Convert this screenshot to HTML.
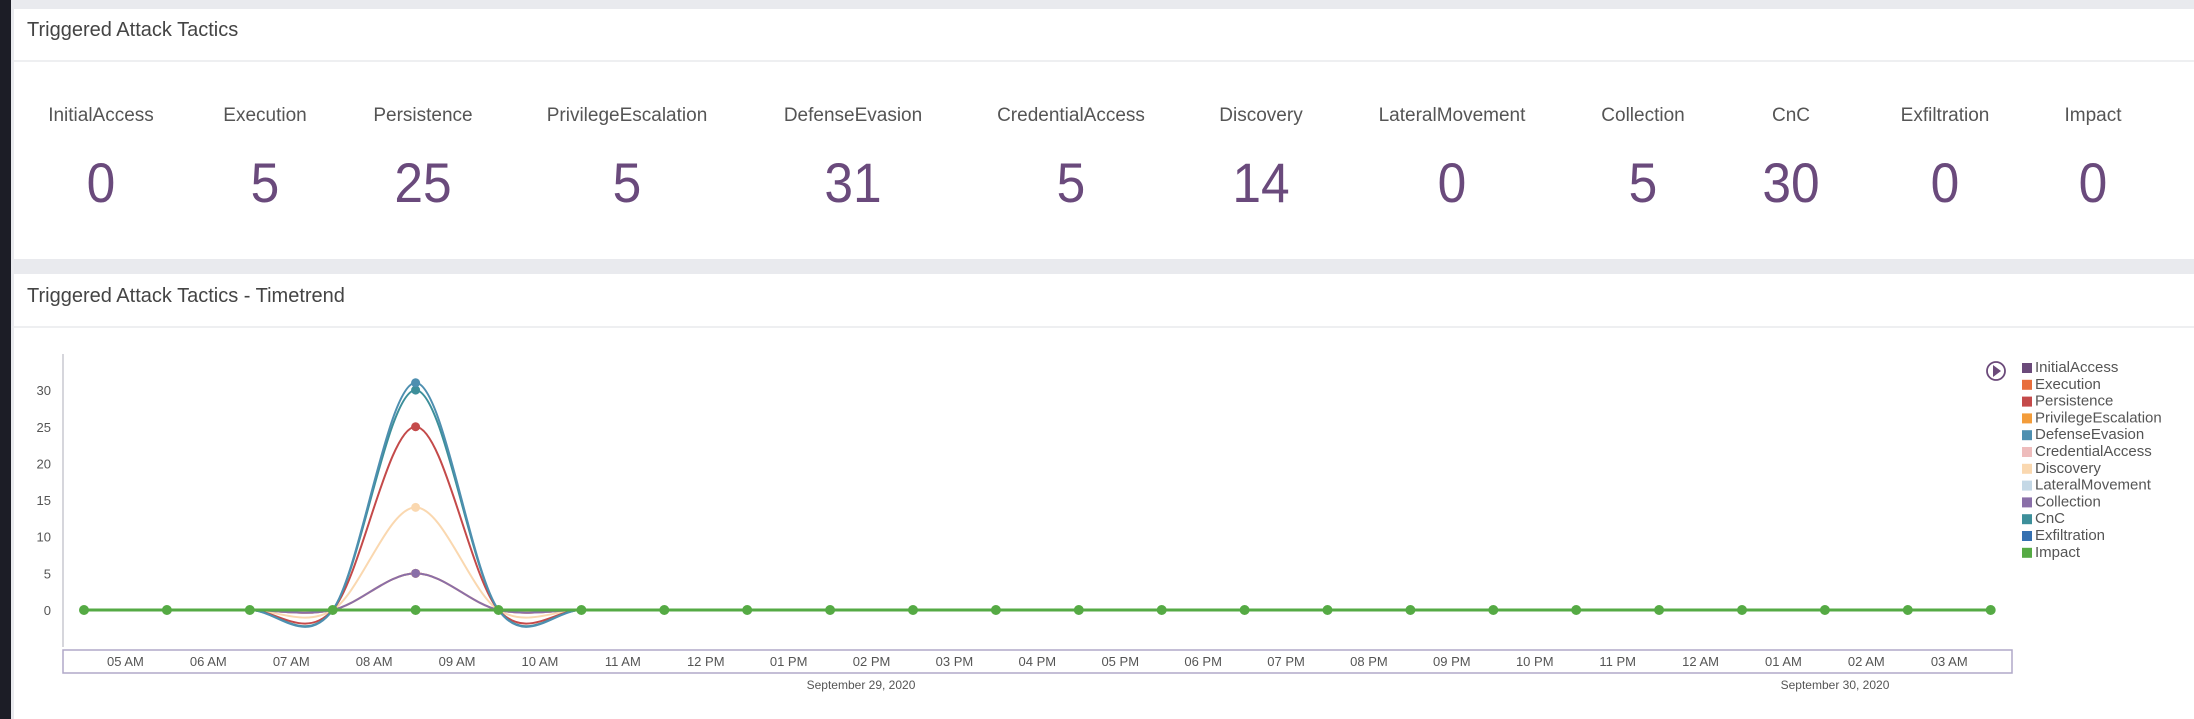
<!DOCTYPE html>
<html><head><meta charset="utf-8"><style>
*{margin:0;padding:0;box-sizing:border-box}
body{width:2194px;height:719px;background:#e9eaee;position:relative;overflow:hidden;font-family:"Liberation Sans",sans-serif;color:#555}
.strip{position:absolute;left:0;top:0;width:11px;height:719px;background:#1c1d26}
.card{position:absolute;left:14px;right:0;background:#fff}
.title{position:absolute;left:13px;font-size:20px;color:#444}
.hl{position:absolute;left:0;right:0;height:2px;background:#eeeff1}
.lab{position:absolute;top:105px;font-size:19px;color:#555;transform:translateX(-50%);white-space:nowrap}
.num{position:absolute;top:150px;font-size:56px;color:#6a4a7c;transform:translateX(-50%) scaleX(0.92)}
</style></head><body>
<div class="strip"></div>
<div class="card" style="top:9px;height:250px">
 <div class="title" style="top:10px">Triggered Attack Tactics</div>
 <div class="hl" style="top:51px"></div>
</div>
<div class="lab" style="left:101px">InitialAccess</div><div class="num" style="left:101px">0</div>
<div class="lab" style="left:265px">Execution</div><div class="num" style="left:265px">5</div>
<div class="lab" style="left:423px">Persistence</div><div class="num" style="left:423px">25</div>
<div class="lab" style="left:627px">PrivilegeEscalation</div><div class="num" style="left:627px">5</div>
<div class="lab" style="left:853px">DefenseEvasion</div><div class="num" style="left:853px">31</div>
<div class="lab" style="left:1071px">CredentialAccess</div><div class="num" style="left:1071px">5</div>
<div class="lab" style="left:1261px">Discovery</div><div class="num" style="left:1261px">14</div>
<div class="lab" style="left:1452px">LateralMovement</div><div class="num" style="left:1452px">0</div>
<div class="lab" style="left:1643px">Collection</div><div class="num" style="left:1643px">5</div>
<div class="lab" style="left:1791px">CnC</div><div class="num" style="left:1791px">30</div>
<div class="lab" style="left:1945px">Exfiltration</div><div class="num" style="left:1945px">0</div>
<div class="lab" style="left:2093px">Impact</div><div class="num" style="left:2093px">0</div>
<div class="card" style="top:274px;height:445px">
 <div class="title" style="top:11px">Triggered Attack Tactics - Timetrend</div>
 <div class="hl" style="top:52px"></div>
</div>
<svg id="ch" width="2194" height="719" style="position:absolute;left:0;top:0" font-family="Liberation Sans, sans-serif"></svg>
<script>
var s=document.getElementById('ch'),h='';
var z=610,u=7.33,x0=84,dx=82.9,N=24;
h+='<line x1="63" y1="354" x2="63" y2="647" stroke="#c8c8d0" stroke-width="1.5"/>';
for(var v=0;v<=30;v+=5)h+='<text x="51" y="'+(z-v*u+5)+'" font-size="13" fill="#555" text-anchor="end">'+v+'</text>';
h+='<rect x="63" y="650" width="1949" height="23" fill="#fff" stroke="#b0a8c8" stroke-width="1.5"/>';
var labs=['05 AM','06 AM','07 AM','08 AM','09 AM','10 AM','11 AM','12 PM','01 PM','02 PM','03 PM','04 PM','05 PM','06 PM','07 PM','08 PM','09 PM','10 PM','11 PM','12 AM','01 AM','02 AM','03 AM'];
labs.forEach(function(l,i){h+='<text x="'+(x0+dx*(i+0.5))+'" y="666" font-size="13" fill="#555" text-anchor="middle">'+l+'</text>'});
h+='<text x="861" y="689" font-size="12" fill="#555" text-anchor="middle">September 29, 2020</text>';
h+='<text x="1835" y="689" font-size="12" fill="#555" text-anchor="middle">September 30, 2020</text>';
function path(val){var P=[];for(var i=0;i<N;i++)P.push([x0+dx*i,z-(i==4?val:0)*u]);
 var d='M'+P[0][0]+','+P[0][1];
 for(var i=0;i<N-1;i++){var a=P[Math.max(i-1,0)],b=P[i],c=P[i+1],e=P[Math.min(i+2,N-1)];
  d+=' C'+(b[0]+(c[0]-a[0])/6)+','+(b[1]+(c[1]-a[1])/6)+' '+(c[0]-(e[0]-b[0])/6)+','+(c[1]-(e[1]-b[1])/6)+' '+c[0]+','+c[1];}
 return d;}
var ser=[[5,'#e86e3c'],[5,'#f39c3a'],[5,'#eebcbc'],[14,'#fad8b0'],[5,'#8a6fa8'],[25,'#c44a4a'],[30,'#3d8f9a'],[31,'#4e8fb0']];
ser.forEach(function(q){h+='<path d="'+path(q[0])+'" fill="none" stroke="'+q[1]+'" stroke-width="2"/>';});
ser.forEach(function(q){h+='<circle cx="'+(x0+4*dx)+'" cy="'+(z-q[0]*u)+'" r="4.5" fill="'+q[1]+'"/>';});
h+='<line x1="'+x0+'" y1="'+z+'" x2="'+(x0+dx*23)+'" y2="'+z+'" stroke="#55aa44" stroke-width="3"/>';
for(var i=0;i<N;i++)h+='<circle cx="'+(x0+dx*i)+'" cy="'+z+'" r="5" fill="#55aa44"/>';
h+='<circle cx="1996" cy="371" r="9" fill="#fff" stroke="#6b4a7a" stroke-width="1.8"/><path d="M1993,365 L2001,371 L1993,377Z" fill="#6b4a7a"/>';
var lg=[['InitialAccess','#6b4a7a'],['Execution','#e86e3c'],['Persistence','#c44a4a'],['PrivilegeEscalation','#f39c3a'],['DefenseEvasion','#4e8fb0'],['CredentialAccess','#eebcbc'],['Discovery','#fad8b0'],['LateralMovement','#c4d8e6'],['Collection','#8a6fa8'],['CnC','#3d8f9a'],['Exfiltration','#3570b0'],['Impact','#55aa44']];
lg.forEach(function(l,i){var y=367+i*16.8;h+='<rect x="2022" y="'+(y-4)+'" width="10" height="10" fill="'+l[1]+'"/><text x="2035" y="'+(y+5)+'" font-size="15" fill="#555">'+l[0]+'</text>';});
s.innerHTML=h;
</script>
</body></html>
